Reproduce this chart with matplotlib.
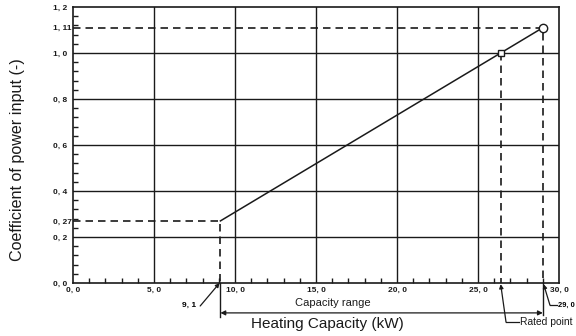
import matplotlib.pyplot as plt
from matplotlib.ticker import MultipleLocator

# capacity (kW) vs coefficient of power input
cap_points = [9.1, 26.4, 29.0]
coef_points = [0.27, 1.0, 1.11]
rated_cap, rated_coef = 26.4, 1.0
max_cap, max_coef = 29.0, 1.11
min_cap, min_coef = 9.1, 0.27

x_ticks = [0, 5, 10, 15, 20, 25, 30]
x_labels = ['0, 0', '5, 0', '10, 0', '15, 0', '20, 0', '25, 0', '30, 0']
y_ticks = [0, 0.2, 0.27, 0.4, 0.6, 0.8, 1.0, 1.11, 1.2]
y_labels = ['0, 0', '0, 2', '0, 27', '0, 4', '0, 6', '0, 8', '1, 0', '1, 11', '1, 2']
x_grid = [5, 10, 15, 20, 25]
y_grid = [0.2, 0.4, 0.6, 0.8, 1.0]

ink = '#1a1a1a'
sans = 'Liberation Sans'
tick_font = dict(family=sans, weight='bold', size=6)
dash = (0, (4.5, 3))

fig = plt.figure(figsize=(5.76, 3.36), dpi=100)
ax = fig.add_axes([73/576, 53/336, 486/576, 276/336])
ax.set_xlim(0, 30)
ax.set_ylim(0, 1.2)

for x in x_grid:
    ax.axvline(x, color=ink, lw=1.0, zorder=1)
for y in y_grid:
    ax.axhline(y, color=ink, lw=1.0, zorder=1)

for s in ax.spines.values():
    s.set_color(ink)
    s.set_linewidth(1.2)

ax.set_xticks(x_ticks)
ax.set_xticklabels(x_labels, fontdict=tick_font)
ax.set_yticks(y_ticks)
ax.set_yticklabels(y_labels, fontdict=tick_font, ha='left')
ax.xaxis.set_minor_locator(MultipleLocator(1))
ax.yaxis.set_minor_locator(MultipleLocator(0.04))
ax.tick_params(which='major', length=0, colors=ink)
ax.tick_params(axis='y', which='major', pad=14.2)
ax.tick_params(axis='x', which='major', pad=3)
ax.tick_params(which='minor', direction='in', length=3.5, width=1.0, color=ink)

# dashed guides to the limit points
ax.plot([0, min_cap, min_cap], [min_coef, min_coef, 0], color=ink, lw=1.2, ls=dash, zorder=2)
ax.plot([0, max_cap, max_cap], [max_coef, max_coef, 0], color=ink, lw=1.2, ls=dash, zorder=2)
ax.plot([rated_cap, rated_cap], [rated_coef, 0], color=ink, lw=1.2, ls=dash, zorder=2)

# characteristic line
ax.plot(cap_points, coef_points, color=ink, lw=1.1, zorder=3)
ax.plot([rated_cap], [rated_coef], marker='s', ms=5, mfc='white', mec=ink, mew=1.0, zorder=4)
ax.plot([max_cap], [max_coef], marker='o', ms=6, mfc='white', mec=ink, mew=1.0, zorder=4)

# annotations below the axis
arrow = dict(arrowstyle='-|>', color=ink, lw=0.9, mutation_scale=6, shrinkA=0, shrinkB=0)
ax.annotate('', xy=(min_cap - 0.05, 0), xytext=(7.85, -0.1), arrowprops=arrow, annotation_clip=False)
ax.text(7.6, -0.096, '9, 1', fontdict=tick_font, ha='right', va='center', clip_on=False)

ax.plot([min_cap, min_cap], [0, -0.148], color=ink, lw=1.0, clip_on=False)
ax.plot([max_cap, max_cap], [0, -0.14], color=ink, lw=1.0, clip_on=False)
ax.annotate('', xy=(min_cap, -0.13), xytext=(max_cap, -0.13),
            arrowprops=dict(arrowstyle='<|-|>', color=ink, lw=0.9, mutation_scale=7,
                            shrinkA=0, shrinkB=0), annotation_clip=False)
ax.text(16.05, -0.087, 'Capacity range', ha='center', va='center', fontsize=8,
        family=sans, color=ink, clip_on=False)
ax.text(15.7, -0.178, 'Heating Capacity (kW)', ha='center', va='center', fontsize=11,
        family=sans, color=ink, clip_on=False)

ax.plot([27.55, 26.73], [-0.17, -0.17], color=ink, lw=0.9, clip_on=False)
ax.annotate('', xy=(rated_cap, -0.005), xytext=(26.73, -0.17), arrowprops=arrow, annotation_clip=False)
ax.text(27.6, -0.17, 'Rated point', ha='left', va='center', fontsize=7.4,
        family=sans, color=ink, clip_on=False)

ax.plot([29.44, 29.88], [-0.096, -0.096], color=ink, lw=0.9, clip_on=False)
ax.annotate('', xy=(max_cap + 0.05, -0.005), xytext=(29.44, -0.096), arrowprops=arrow, annotation_clip=False)
ax.text(29.95, -0.096, '29, 0', fontdict=dict(tick_font, size=5.4), ha='left', va='center', clip_on=False)

fig.text(18/576, 0.524, 'Coefficient of power input (-)', rotation=90, ha='center', va='center',
         fontsize=11.6, family=sans, color=ink)

fig.savefig('out.png', dpi=100)
